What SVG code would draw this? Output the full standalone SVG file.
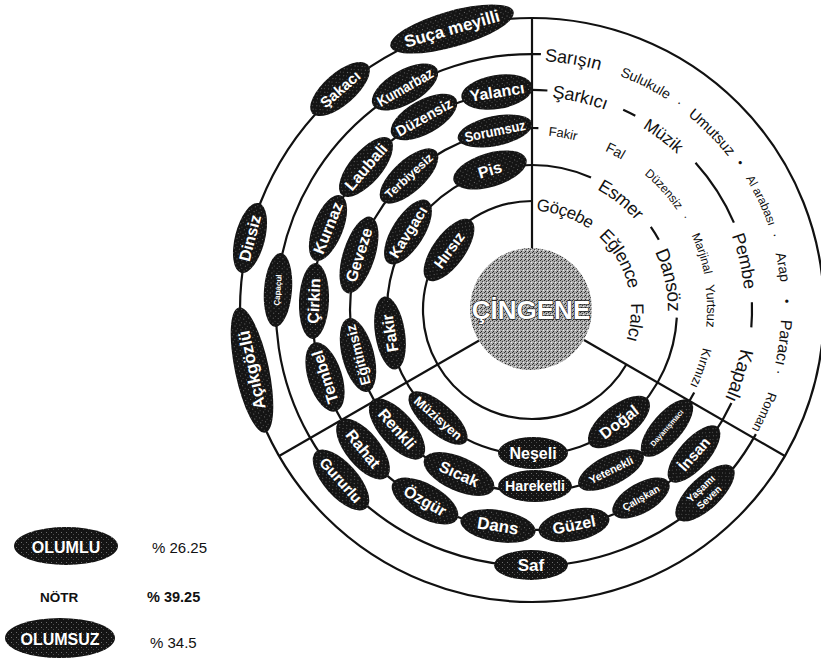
<svg xmlns="http://www.w3.org/2000/svg" width="821" height="660" viewBox="0 0 821 660">
<style>
.ln{fill:none;stroke:#111;stroke-width:2.2}
.e{fill:url(#dk)}
.t{fill:#fff;font-family:"Liberation Sans",Arial,sans-serif;font-weight:bold;text-anchor:middle;dominant-baseline:central}
.r{fill:#111;font-family:"Liberation Sans",Arial,sans-serif;text-anchor:middle;dominant-baseline:central}
.lg{fill:#111;font-family:"Liberation Sans",Arial,sans-serif;dominant-baseline:central}
</style>
<defs>
<pattern id="dk" width="5" height="5" patternUnits="userSpaceOnUse"><rect width="5" height="5" fill="#141414"/><rect x="1" y="2" width="1" height="1" fill="#6a6a6a"/><rect x="3" y="4" width="1" height="1" fill="#4a4a4a"/></pattern>
<pattern id="gr" width="4" height="4" patternUnits="userSpaceOnUse"><rect width="4" height="4" fill="#ababab"/><rect x="0" y="0" width="1" height="1" fill="#333"/><rect x="2" y="1" width="1" height="1" fill="#444"/><rect x="1" y="3" width="1" height="1" fill="#222"/><rect x="3" y="2" width="1" height="1" fill="#eee"/></pattern>
<path id="p1" d="M532,205 A105,105 0 1 1 532,415 A105,105 0 1 1 532,205"/>
<path id="p2" d="M532,167 A143,143 0 1 1 532,453 A143,143 0 1 1 532,167"/>
<path id="p3" d="M532,130 A180,180 0 1 1 532,490 A180,180 0 1 1 532,130"/>
<path id="p4" d="M532,91 A219,219 0 1 1 532,529 A219,219 0 1 1 532,91"/>
<path id="p5" d="M532,55 A255,255 0 1 1 532,565 A255,255 0 1 1 532,55"/>
</defs>
<rect width="821" height="660" fill="#fff"/>

<g id="connectors">
<circle class="ln" cx="532" cy="310" r="292"/>
<path class="ln" d="M755.9,434.1 A256,256 0 1 1 540.9,54.2"/>
<path class="ln" d="M731.4,403 A220,220 0 1 1 547.4,90.5"/>
<path class="ln" d="M623.2,109.8 A220,220 0 0 1 635.3,115.8"/>
<path class="ln" d="M695.5,162.8 A220,220 0 0 1 733.9,222.6"/>
<path class="ln" d="M751.9,302.3 A220,220 0 0 1 751.3,327.3"/>
<path class="ln" d="M694.2,392.6 A182,182 0 1 1 538.4,128.1"/>
<path class="ln" d="M676.8,317.6 A145,145 0 1 1 532,165"/>
<path class="ln" d="M532,165 A145,145 0 0 1 591,177.5"/>
<path class="ln" d="M650.8,226.8 A145,145 0 0 1 658.8,239.7"/>
<path class="ln" d="M626.4,364.5 A109,109 0 1 1 532,201"/>
<line class="ln" x1="532" y1="250" x2="532" y2="18"/>
<line class="ln" x1="584" y1="340" x2="784.9" y2="456"/>
<line class="ln" x1="480" y1="340" x2="279.1" y2="456"/>
</g>

<g id="center">
<circle cx="531" cy="309" r="61" fill="url(#gr)"/>
<text x="531" y="310" font-family="Liberation Sans,Arial,sans-serif" font-weight="bold" font-size="26" text-anchor="middle" dominant-baseline="central" fill="#fff" stroke="#222" stroke-width="1.3" paint-order="stroke">ÇİNGENE</text>
</g>

<!-- outer ring -->
<g id="n-suca-meyilli" transform="translate(452,29) rotate(-15.8)"><ellipse class="e" rx="64" ry="18"/><text class="t" font-size="17">Suça meyilli</text></g>
<g id="n-sakaci" transform="translate(340,89) rotate(-41)"><ellipse class="e" rx="37" ry="16"/><text class="t" font-size="15">Şakacı</text></g>
<g id="n-dinsiz" transform="translate(250,238) rotate(-75.7)"><ellipse class="e" rx="36" ry="15"/><text class="t" font-size="16">Dinsiz</text></g>
<g id="n-acikgozlu" transform="translate(252,370) rotate(-102)"><ellipse class="e" rx="64" ry="17"/><text class="t" font-size="17">Açıkgözlü</text></g>

<!-- ring 5 -->
<g id="n-kumarbaz" transform="translate(405,87) rotate(-29.7)"><ellipse class="e" rx="37" ry="17"/><text class="t" font-size="15" textLength="62" lengthAdjust="spacingAndGlyphs">Kumarbaz</text></g>
<g id="n-capacul" transform="translate(278,290) rotate(-85.5)"><ellipse class="e" rx="37" ry="14"/><text class="t" font-size="8">Çapaçul</text></g>
<g id="n-gururlu" transform="translate(341,480) rotate(48.3)"><ellipse class="e" rx="38" ry="17"/><text class="t" font-size="15">Gururlu</text></g>
<g id="n-saf" transform="translate(531,565)"><ellipse class="e" rx="37" ry="15"/><text class="t" font-size="17">Saf</text></g>
<g id="n-yasami-seven" transform="translate(705,493) rotate(-43.4)"><ellipse class="e" rx="38" ry="16"/><text class="t" font-size="10" y="-6">Yaşamı</text><text class="t" font-size="10" y="6">Seven</text></g>

<!-- ring 4 -->
<g id="n-yalanci" transform="translate(497,92) rotate(-9.1)"><ellipse class="e" rx="36" ry="17"/><text class="t" font-size="16">Yalancı</text></g>
<g id="n-duzensiz" transform="translate(424,117) rotate(-29.2)"><ellipse class="e" rx="37" ry="17"/><text class="t" font-size="15" textLength="62" lengthAdjust="spacingAndGlyphs">Düzensiz</text></g>
<g id="n-laubali" transform="translate(366,167) rotate(-49.3)"><ellipse class="e" rx="37" ry="16"/><text class="t" font-size="16">Laubali</text></g>
<g id="n-kurnaz" transform="translate(328,228) rotate(-68)"><ellipse class="e" rx="35" ry="15"/><text class="t" font-size="16">Kurnaz</text></g>
<g id="n-cirkin" transform="translate(314,301) rotate(-87.6)"><ellipse class="e" rx="38" ry="15"/><text class="t" font-size="16">Çirkin</text></g>
<g id="n-tembel" transform="translate(325,377) rotate(-108)"><ellipse class="e" rx="36" ry="17"/><text class="t" font-size="16">Tembel</text></g>
<g id="n-rahat" transform="translate(363,449) rotate(50.6)"><ellipse class="e" rx="37" ry="17"/><text class="t" font-size="16">Rahat</text></g>
<g id="n-ozgur" transform="translate(425,501) rotate(29.4)"><ellipse class="e" rx="37" ry="17"/><text class="t" font-size="16">Özgür</text></g>
<g id="n-dans" transform="translate(498,526) rotate(9)"><ellipse class="e" rx="38" ry="16"/><text class="t" font-size="17">Dans</text></g>
<g id="n-guzel" transform="translate(574,525) rotate(-11)"><ellipse class="e" rx="36" ry="16"/><text class="t" font-size="16">Güzel</text></g>
<g id="n-caliskan" transform="translate(641,498) rotate(-30)"><ellipse class="e" rx="32" ry="15"/><text class="t" font-size="10">Çalışkan</text></g>
<g id="n-insan" transform="translate(694,454) rotate(-48.4)"><ellipse class="e" rx="36" ry="15"/><text class="t" font-size="15">İnsan</text></g>

<!-- ring 3 -->
<g id="n-sorumsuz" transform="translate(495,131) rotate(-11.7)"><ellipse class="e" rx="38" ry="15"/><text class="t" font-size="14" textLength="62" lengthAdjust="spacingAndGlyphs">Sorumsuz</text></g>
<g id="n-terbiyesiz" transform="translate(409,176) rotate(-42.5)"><ellipse class="e" rx="37" ry="16"/><text class="t" font-size="12" textLength="60" lengthAdjust="spacingAndGlyphs">Terbiyesiz</text></g>
<g id="n-geveze" transform="translate(359,255) rotate(-72.3)"><ellipse class="e" rx="40" ry="16"/><text class="t" font-size="16">Geveze</text></g>
<g id="n-egitimsiz" transform="translate(358,355) rotate(-104.7)"><ellipse class="e" rx="38" ry="16"/><text class="t" font-size="14" textLength="62" lengthAdjust="spacingAndGlyphs">Eğitimsiz</text></g>
<g id="n-renkli" transform="translate(397,429) rotate(48.6)"><ellipse class="e" rx="38" ry="17"/><text class="t" font-size="16">Renkli</text></g>
<g id="n-sicak" transform="translate(459,474) rotate(24)"><ellipse class="e" rx="38" ry="17"/><text class="t" font-size="16">Sıcak</text></g>
<g id="n-hareketli" transform="translate(535,486)"><ellipse class="e" rx="37" ry="16"/><text class="t" font-size="14" textLength="60" lengthAdjust="spacingAndGlyphs">Hareketli</text></g>
<g id="n-yetenekli" transform="translate(611,470) rotate(-26.3)"><ellipse class="e" rx="36" ry="15"/><text class="t" font-size="11">Yetenekli</text></g>
<g id="n-dayanismaci" transform="translate(667,428) rotate(-48.9)"><ellipse class="e" rx="36" ry="15"/><text class="t" font-size="7.5">Dayanışmacı</text></g>

<!-- ring 2 -->
<g id="n-pis" transform="translate(490,170) rotate(-16.7)"><ellipse class="e" rx="38" ry="17"/><text class="t" font-size="16">Pis</text></g>
<g id="n-kavgaci" transform="translate(408,232) rotate(-57.8)"><ellipse class="e" rx="37" ry="16"/><text class="t" font-size="15">Kavgacı</text></g>
<g id="n-fakir" transform="translate(390,333) rotate(-99)"><ellipse class="e" rx="37" ry="15"/><text class="t" font-size="16">Fakir</text></g>
<g id="n-muzisyen" transform="translate(438,418) rotate(41)"><ellipse class="e" rx="37" ry="15"/><text class="t" font-size="13">Müzisyen</text></g>
<g id="n-neseli" transform="translate(533,453)"><ellipse class="e" rx="35" ry="16"/><text class="t" font-size="16">Neşeli</text></g>
<g id="n-dogal" transform="translate(619,422) rotate(-37.7)"><ellipse class="e" rx="37" ry="17"/><text class="t" font-size="16">Doğal</text></g>

<!-- ring 1 -->
<g id="n-hirsiz" transform="translate(449,250) rotate(-53.8)"><ellipse class="e" rx="37" ry="16"/><text class="t" font-size="15">Hırsız</text></g>

<!-- neutral sector labels -->
<g id="n-gocebe"><text class="r" font-size="17"><textPath href="#p1" startOffset="5.28%">Göçebe</textPath></text></g>
<g id="n-eglence"><text class="r" font-size="18"><textPath href="#p1" startOffset="16.67%">Eğlence</textPath></text></g>
<g id="n-falci"><text class="r" font-size="18"><textPath href="#p1" startOffset="26.94%">Falcı</textPath></text></g>

<g id="n-esmer"><text class="r" font-size="18"><textPath href="#p2" startOffset="10.8%">Esmer</textPath></text></g>
<g id="n-dansoz"><text class="r" font-size="19"><textPath href="#p2" startOffset="21.58%">Dansöz</textPath></text></g>

<g id="n-fakir-n"><text class="r" font-size="13"><textPath href="#p3" startOffset="2.78%">Fakir</textPath></text></g>
<g id="n-fal"><text class="r" font-size="14"><textPath href="#p3" startOffset="7.7%">Fal</textPath></text></g>
<g id="n-duzensiz-n"><text class="r" font-size="12"><textPath href="#p3" startOffset="13.2%">Düzensiz</textPath></text></g>
<g id="n-dot3"><text class="r" font-size="12"><textPath href="#p3" startOffset="16.35%">·</textPath></text></g>
<g id="n-marjinal"><text class="r" font-size="12"><textPath href="#p3" startOffset="19.9%">Marjinal</textPath></text></g>
<g id="n-yurtsuz"><text class="r" font-size="13"><textPath href="#p3" startOffset="24.64%">Yurtsuz</textPath></text></g>
<g id="n-kirmizi"><text class="r" font-size="13"><textPath href="#p3" startOffset="30.28%">Kırmızı</textPath></text></g>

<g id="n-sarkici"><text class="r" font-size="18"><textPath href="#p4" startOffset="3.56%">Şarkıcı</textPath></text></g>
<g id="n-muzik"><text class="r" font-size="17"><textPath href="#p4" startOffset="10.3%">Müzik</textPath></text></g>
<g id="n-pembe"><text class="r" font-size="18"><textPath href="#p4" startOffset="21.39%">Pembe</textPath></text></g>
<g id="n-kapali"><text class="r" font-size="19"><textPath href="#p4" startOffset="29.89%">Kapalı</textPath></text></g>

<g id="n-sarisin"><text class="r" font-size="18"><textPath href="#p5" startOffset="2.61%">Sarışın</textPath></text></g>
<g id="n-sulukule"><text class="r" font-size="14"><textPath href="#p5" startOffset="7.4%">Sulukule</textPath></text></g>
<g id="n-dot5a"><text class="r" font-size="14"><textPath href="#p5" startOffset="9.85%">·</textPath></text></g>
<g id="n-umutsuz"><text class="r" font-size="15"><textPath href="#p5" startOffset="12.6%">Umutsuz</textPath></text></g>
<g id="n-dot5b"><text class="r" font-size="12"><textPath href="#p5" startOffset="15.2%">•</textPath></text></g>
<g id="n-al-arabasi"><text class="r" font-size="12"><textPath href="#p5" startOffset="17.9%">Al arabası</textPath></text></g>
<g id="n-dot5c"><text class="r" font-size="14"><textPath href="#p5" startOffset="20.25%">·</textPath></text></g>
<g id="n-arap"><text class="r" font-size="14"><textPath href="#p5" startOffset="22.3%">Arap</textPath></text></g>
<g id="n-dot5d"><text class="r" font-size="12"><textPath href="#p5" startOffset="24.44%">•</textPath></text></g>
<g id="n-paraci"><text class="r" font-size="16"><textPath href="#p5" startOffset="27.06%">Paracı</textPath></text></g>
<g id="n-dot5e"><text class="r" font-size="14"><textPath href="#p5" startOffset="28.95%">·</textPath></text></g>
<g id="n-roman"><text class="r" font-size="13"><textPath href="#p5" startOffset="31.6%">Roman</textPath></text></g>

<!-- legend -->
<g id="legend-olumlu"><ellipse class="e" cx="66" cy="546" rx="52" ry="19"/><text class="t" x="66" y="547" font-size="16">OLUMLU</text><text class="lg" x="152" y="547" font-size="15">% 26.25</text></g>
<g id="legend-notr"><text class="lg" x="40" y="597" font-size="13.5" font-weight="bold">NÖTR</text><text class="lg" x="147" y="597" font-size="14.5" font-weight="bold">% 39.25</text></g>
<g id="legend-olumsuz"><ellipse class="e" cx="60" cy="638" rx="55" ry="20"/><text class="t" x="60" y="639" font-size="16">OLUMSUZ</text><text class="lg" x="150" y="642" font-size="15">% 34.5</text></g>
</svg>
